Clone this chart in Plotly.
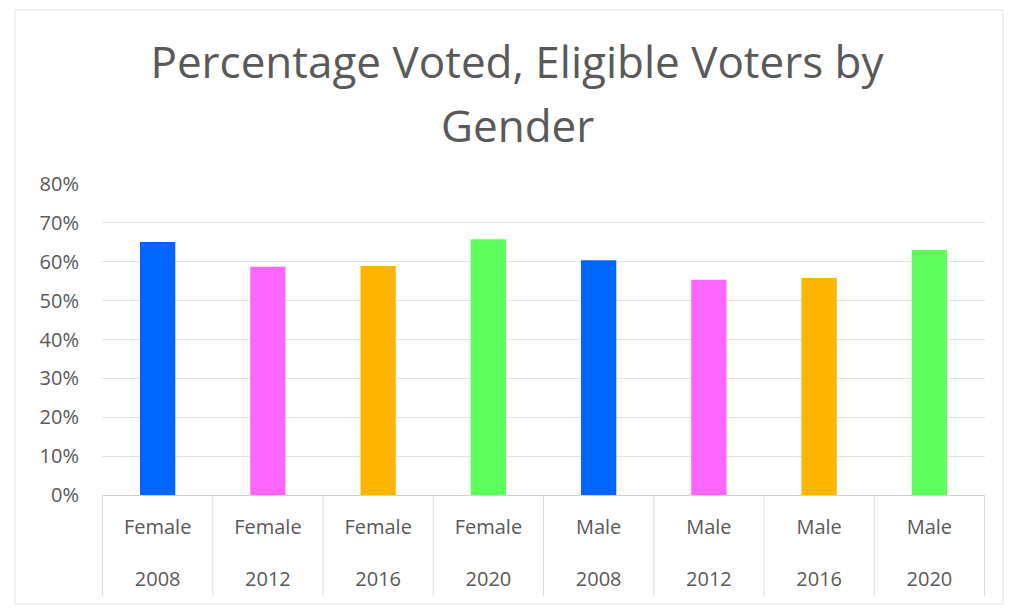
import plotly.graph_objects as go

# Turnout among eligible voters (%), by gender and election year
genders = ["Female", "Female", "Female", "Female", "Male", "Male", "Male", "Male"]
years = ["2008", "2012", "2016", "2020", "2008", "2012", "2016", "2020"]
turnout = [65.1, 58.7, 58.9, 65.8, 60.4, 55.4, 55.8, 63.0]
year_colors = {"2008": "#0066ff", "2012": "#ff66ff", "2016": "#ffb400", "2020": "#5cff5c"}

y_ticks = [0, 10, 20, 30, 40, 50, 60, 70, 80]
y_tick_text = [f"{v}%" for v in y_ticks]

categories = [f"{g} {y}" for g, y in zip(genders, years)]
category_labels = [f"{g}<br><br>{y}" for g, y in zip(genders, years)]

W, H = 1010, 613
L, R, T, B = 102, 25, 184, 118
plot_w, plot_h = W - L - R, H - T - B


def px_to_paper_x(px):
    return (px - L) / plot_w


def px_to_paper_y(py):
    return (H - B - py) / plot_h


fig = go.Figure(
    go.Bar(
        x=categories,
        y=turnout,
        marker=dict(color=[year_colors[y] for y in years], line=dict(width=0)),
        hovertemplate="%{x}: %{y:.1f}%<extra></extra>",
    )
)

font_family = "Open Sans, Noto Sans, sans-serif"
text_color = "#595959"

# category dividers running down through the two label rows
shapes = [
    dict(
        type="line",
        xref="x",
        yref="paper",
        x0=i - 0.5,
        x1=i - 0.5,
        y0=0,
        y1=px_to_paper_y(596),
        line=dict(color="#dcdcdc", width=1),
    )
    for i in range(len(categories) + 1)
]
# faint chart frame
shapes.append(
    dict(
        type="rect",
        xref="paper",
        yref="paper",
        x0=px_to_paper_x(15),
        x1=px_to_paper_x(1003),
        y0=px_to_paper_y(604),
        y1=px_to_paper_y(10),
        line=dict(color="#ebebeb", width=1.5),
        fillcolor="rgba(0,0,0,0)",
        layer="below",
    )
)

fig.update_layout(
    width=W,
    height=H,
    margin=dict(l=L, r=R, t=T, b=B),
    paper_bgcolor="white",
    plot_bgcolor="white",
    bargap=0.68,
    showlegend=False,
    font=dict(family=font_family, color=text_color, size=20),
    title=dict(
        text="Percentage Voted, Eligible Voters by",
        x=517 / W,
        xanchor="center",
        y=1 - 63 / H,
        yanchor="middle",
        font=dict(size=44, color=text_color, family=font_family),
    ),
    annotations=[
        dict(
            text="Gender",
            xref="paper",
            yref="paper",
            x=px_to_paper_x(517),
            y=px_to_paper_y(125),
            xanchor="center",
            yanchor="middle",
            showarrow=False,
            font=dict(size=44, color=text_color, family=font_family),
        )
    ],
    shapes=shapes,
)

fig.update_xaxes(
    type="category",
    tickvals=categories,
    ticktext=category_labels,
    showline=True,
    linecolor="#d0d0d0",
    linewidth=1,
    ticks="",
    ticklabelstandoff=14,
    tickfont=dict(size=20, color=text_color),
    showgrid=False,
)

fig.update_yaxes(
    range=[0, 80],
    tickvals=y_ticks,
    ticktext=y_tick_text,
    showgrid=True,
    gridcolor="#e3e3e3",
    gridwidth=1,
    zeroline=False,
    showline=False,
    ticks="",
    ticklabelstandoff=22,
    tickfont=dict(size=20, color=text_color),
)

fig.write_html("out.html")
